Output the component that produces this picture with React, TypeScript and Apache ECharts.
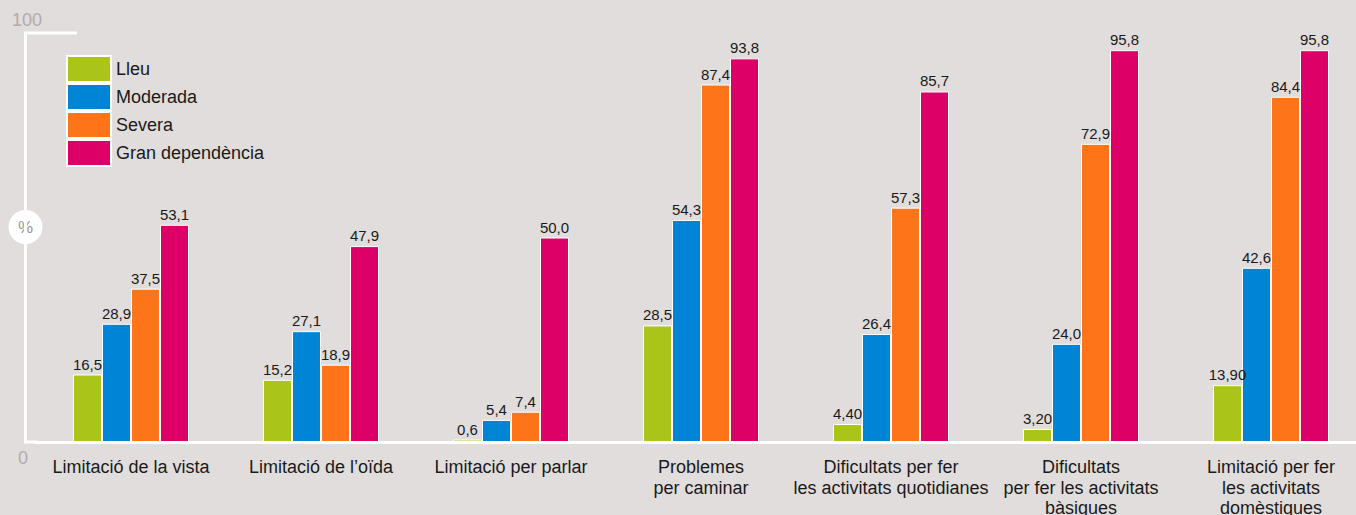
import React, { useEffect, useRef } from "react";
import * as echarts from "echarts";

const categories = [
  "Limitació de la vista",
  "Limitació de l’oïda",
  "Limitació per parlar",
  "Problemes\nper caminar",
  "Dificultats per fer\nles activitats quotidianes",
  "Dificultats\nper fer les activitats\nbàsiques",
  "Limitació per fer\nles activitats\ndomèstiques",
];

const seriesNames = ["Lleu", "Moderada", "Severa", "Gran dependència"];
const lleu = [16.5, 15.2, 0.6, 28.5, 4.4, 3.2, 13.9];
const lleuDecimals = [1, 1, 1, 1, 2, 2, 2];
const moderada = [28.9, 27.1, 5.4, 54.3, 26.4, 24.0, 42.6];
const severa = [37.5, 18.9, 7.4, 87.4, 57.3, 72.9, 84.4];
const granDependencia = [53.1, 47.9, 50.0, 93.8, 85.7, 95.8, 95.8];
const colors = ["#aac419", "#0085d6", "#fd7419", "#dc0067"];
const yTickLabels = ["0", "100"];

const BG = "#e0dddc";

export default function App() {
  const ref = useRef<HTMLDivElement>(null);
  useEffect(() => {
    if (!ref.current) return;
    const chart = echarts.init(ref.current, null, { renderer: "svg" });
    const dataSets = [lleu, moderada, severa, granDependencia];
    const fmt = (v: number, d: number) => v.toFixed(d).replace(".", ",");
    const series = dataSets.map((arr, si) => ({
      name: seriesNames[si],
      type: "bar",
      data: arr,
      barWidth: 29,
      barGap: "0%",
      itemStyle: { color: colors[si], borderColor: "#ffffff", borderWidth: 1 },
      label: {
        show: true,
        position: "top",
        distance: 3,
        color: "#1a1a1a",
        fontSize: 15,
        fontFamily: "Liberation Sans",
        formatter: (p: any) =>
          fmt(p.value, si === 0 ? lleuDecimals[p.dataIndex] : 1),
      },
    }));
    chart.setOption({
      animation: false,
      backgroundColor: BG,
      grid: {
        left: 36,
        top: 33,
        width: 1330,
        height: 409,
        containLabel: false,
        outerBoundsMode: "none",
      },
      legend: {
        orient: "vertical",
        left: 66,
        top: 55,
        padding: 0,
        itemWidth: 44,
        itemHeight: 26,
        itemGap: 0,
        icon: "rect",
        textStyle: { fontSize: 18, color: "#1a1a1a", fontFamily: "Liberation Sans" },
        data: seriesNames,
      },
      xAxis: {
        type: "category",
        data: categories,
        axisLine: { show: true, lineStyle: { color: "#ffffff", width: 3 } },
        axisTick: { show: false },
        axisLabel: {
          margin: 15,
          fontSize: 18,
          lineHeight: 20.5,
          color: "#1a1a1a",
          fontFamily: "Liberation Sans",
          interval: 0,
          verticalAlign: "top",
        },
      },
      yAxis: {
        type: "value",
        min: 0,
        max: 100,
        interval: 100,
        offset: 11,
        axisLine: { show: true, lineStyle: { color: "#ffffff", width: 3 } },
        axisTick: { show: false },
        axisLabel: { show: false },
        splitLine: { show: false },
      },
      graphic: [
        {
          type: "line",
          shape: { x1: 24, y1: 442, x2: 38, y2: 442 },
          style: { stroke: "#ffffff", lineWidth: 3 },
        },
        {
          type: "line",
          shape: { x1: 24, y1: 33, x2: 77, y2: 33 },
          style: { stroke: "#ffffff", lineWidth: 3 },
        },
        {
          type: "text",
          x: 27,
          y: 20,
          style: {
            text: yTickLabels[1],
            fill: "#b0abab",
            fontSize: 18,
            fontFamily: "Liberation Sans",
            align: "center",
            verticalAlign: "middle",
          },
        },
        {
          type: "text",
          x: 23,
          y: 458,
          style: {
            text: yTickLabels[0],
            fill: "#b0abab",
            fontSize: 18,
            fontFamily: "Liberation Sans",
            align: "center",
            verticalAlign: "middle",
          },
        },
        {
          type: "circle",
          shape: { cx: 25.5, cy: 227, r: 17 },
          style: { fill: "#ffffff" },
        },
        {
          type: "text",
          x: 25.5,
          y: 227,
          style: {
            text: "%",
            fill: "#9a9595",
            fontSize: 17,
            fontFamily: "Liberation Sans",
            align: "center",
            verticalAlign: "middle",
          },
        },
      ],
      series,
    });
    return () => chart.dispose();
  }, []);
  return (
    <div
      ref={ref}
      style={{ position: "absolute", left: 0, top: 0, width: 1356, height: 515, background: BG }}
    />
  );
}
